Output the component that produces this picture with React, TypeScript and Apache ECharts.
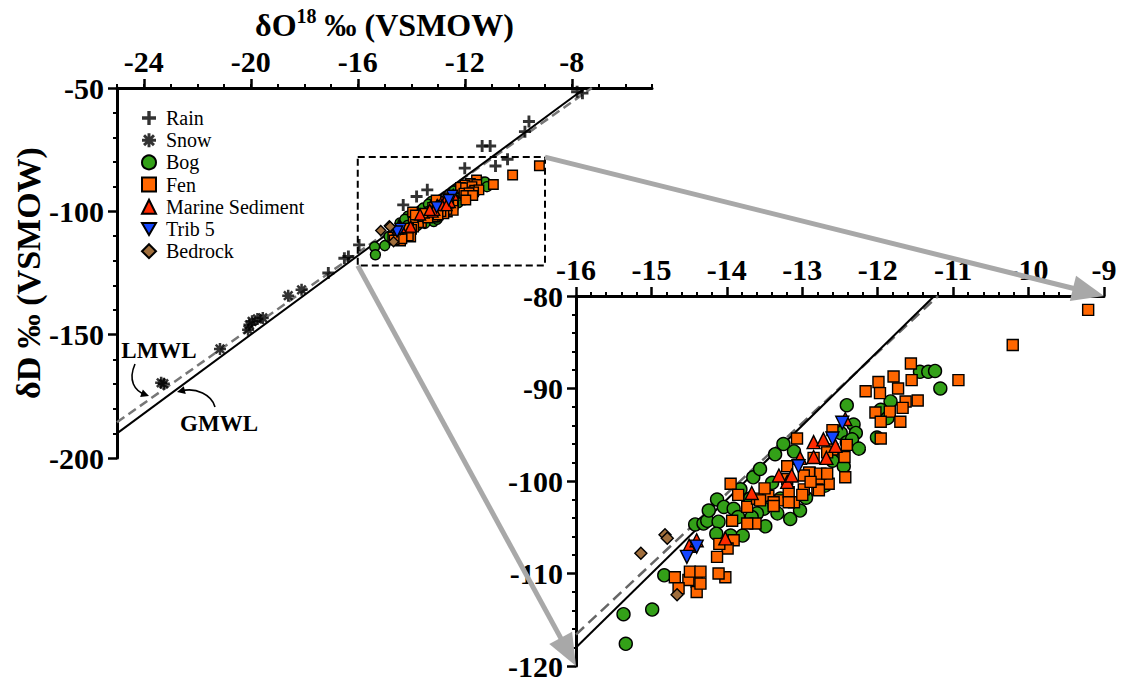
import React, { useEffect, useRef } from 'react';
import * as echarts from 'echarts';

const FONT = 'Liberation Serif';

// ---------- data ----------
const rain = [
  [-7.8, -51.5], [-7.6, -52.1], [-9.6, -63.6], [-9.75, -67.7], [-11.35, -73.5], [-11.05, -73.5],
  [-10.4, -78.9], [-10.85, -81.6], [-12.0, -82.5], [-13.4, -91.3], [-13.8, -94.0], [-14.3, -97.4],
  [-15.95, -113.6], [-16.5, -119.0], [-16.35, -118.3], [-17.1, -125.0],
];
const snow = [
  [-18.1, -131.8], [-18.6, -134.2], [-19.55, -143.2], [-19.75, -143.6], [-19.95, -144.6],
  [-20.05, -146.0], [-20.1, -148.0], [-21.15, -155.8], [-23.35, -169.5], [-23.25, -169.9],
];
const bog = [
  [-15.37, -114.4], [-15.34, -117.6], [-14.99, -113.9], [-14.83, -110.2], [-14.42, -104.7],
  [-14.31, -104.6], [-14.26, -104.3], [-14.11, -104.4], [-14.13, -102.0], [-14.04, -102.8],
  [-14.24, -103.2], [-13.95, -105.9], [-13.79, -105.9], [-13.65, -99.6], [-13.56, -98.7],
  [-13.91, -103.0], [-12.41, -91.8], [-12.32, -93.9], [-12.29, -94.8], [-13.25, -96.0],
  [-13.36, -97.1], [-13.11, -96.8], [-13.82, -100.9], [-13.69, -101.9], [-13.51, -103.0],
  [-13.33, -103.5], [-13.29, -101.9], [-12.49, -94.8], [-12.41, -95.8], [-12.49, -97.6],
  [-12.60, -97.8], [-11.44, -88.2], [-11.33, -88.2], [-11.24, -88.1], [-11.17, -90.0],
  [-12.34, -95.5], [-11.83, -91.4], [-11.96, -92.3], [-11.87, -93.2], [-12.01, -95.3],
  [-13.60, -103.5], [-13.16, -104.1], [-13.03, -103.2], [-13.49, -104.9], [-13.85, -103.9],
  [-13.67, -103.9], [-14.14, -105.7], [-12.45, -98.4], [-12.95, -101.8], [-12.70, -100.5],
  [-13.40, -100.2], [-12.25, -96.5],
];
const fen = [
  [-10.21, -85.3], [-9.21, -81.5], [-11.56, -87.3], [-11.79, -88.7], [-11.99, -89.3],
  [-11.55, -89.1], [-10.93, -89.1], [-12.16, -90.3], [-11.97, -90.5], [-11.73, -90.0],
  [-11.63, -91.4], [-11.47, -91.3], [-11.67, -92.1], [-12.03, -92.6], [-11.84, -92.5],
  [-11.96, -93.6], [-11.70, -93.6], [-11.96, -95.4], [-12.60, -94.5], [-12.41, -96.1],
  [-12.44, -97.4], [-12.65, -100.3], [-12.43, -99.6], [-13.07, -95.4], [-12.90, -99.1],
  [-12.78, -99.8], [-13.95, -100.3], [-13.73, -102.8], [-13.45, -101.6], [-13.29, -102.1],
  [-13.18, -101.2], [-12.98, -100.9], [-12.80, -100.9], [-12.91, -99.1], [-12.76, -99.2],
  [-12.67, -99.2], [-12.60, -96.6], [-12.67, -96.9], [-12.85, -97.5], [-13.20, -98.4],
  [-12.98, -99.4], [-13.20, -99.8], [-13.11, -102.3], [-13.60, -101.9], [-13.62, -104.6],
  [-13.73, -104.6], [-13.93, -104.3], [-13.91, -106.4], [-13.99, -107.3], [-14.13, -108.2],
  [-14.02, -110.4], [-14.11, -110.0], [-14.40, -110.9], [-14.51, -110.7], [-14.69, -110.4],
  [-14.49, -109.8], [-14.35, -109.8], [-14.40, -112.0], [-14.35, -111.1], [-14.64, -111.6],
  [-13.56, -102.1], [-13.38, -102.3], [-14.10, -106.8], [-12.78, -101.0], [-12.89, -100.1],
  [-13.18, -102.3], [-13.38, -102.7], [-13.50, -100.8], [-13.85, -101.5], [-13.00, -101.5],
];
const marine = [
  [-12.85, -95.8], [-12.72, -95.5], [-12.56, -96.2], [-13.03, -97.5], [-12.85, -97.4],
  [-12.68, -97.5], [-12.43, -93.3], [-13.20, -100.1], [-13.14, -99.4], [-13.31, -99.4],
  [-13.67, -101.3], [-14.02, -106.2], [-14.50, -107.0], [-14.40, -106.4],
];
const trib5 = [[-12.47, -93.7], [-12.60, -95.4], [-13.05, -98.4], [-14.40, -107.1], [-14.53, -108.2]];
const bedrock = [[-14.82, -105.8], [-14.79, -106.2], [-15.14, -107.8], [-14.66, -112.3]];

const gmwlMain = [[-25, -190], [-7.5, -50]];
const lmwlMain = [[-25, -185.5], [-7.25, -50]];
const gmwlInset = [[-16, -118], [-11.25, -80]];
const lmwlInset = [[-16, -116.6], [-11.2, -80]];

const zoomBoxX = [-16, -9];
const zoomBoxY = [-122, -78];
const insetX = [-16, -9];
const insetY = [-120, -80];
const mainXRange = [-25, -5];
const mainYRange = [-200, -50];
const mainXTicks = [-24, -20, -16, -12, -8];
const legendNames = ['Rain', 'Snow', 'Bog', 'Fen', 'Marine Sediment', 'Trib 5', 'Bedrock'];

// ---------- symbols ----------
const PLUS = 'path://M-2.4,-10L2.4,-10L2.4,-2.4L10,-2.4L10,2.4L2.4,2.4L2.4,10L-2.4,10L-2.4,2.4L-10,2.4L-10,-2.4L-2.4,-2.4Z';
function asteriskPath() {
  const R = 10, w = 2.1, rin = w / Math.sin(Math.PI / 8);
  const pts: number[][] = [];
  for (let i = 0; i < 8; i++) {
    const a = (i * Math.PI) / 4, c = Math.cos(a), s = Math.sin(a);
    pts.push([R * c + w * s, R * s - w * c]);
    pts.push([R * c - w * s, R * s + w * c]);
    const b = a + Math.PI / 8;
    pts.push([rin * Math.cos(b), rin * Math.sin(b)]);
  }
  return 'path://M' + pts.map((p) => p[0].toFixed(2) + ',' + p[1].toFixed(2)).join('L') + 'Z';
}
const ASTER = asteriskPath();
const TRI_DOWN = 'path://M-10,-8.66L10,-8.66L0,8.66Z';

const COLORS = {
  bog: '#33a018',
  fen: '#ff6600',
  marine: '#ff2a00',
  trib: '#1446ff',
  bedrock: '#a06e3c',
};

const tickFont = { fontSize: 30, fontWeight: 'bold' as const, fontFamily: FONT, color: '#000' };
const axisLine = { show: true, onZero: false, lineStyle: { color: '#000', width: 3 } };

function scatter(name: string, data: number[][], symbol: string, size: number, color: string, xi: number, yi: number, extra: any = {}) {
  return {
    type: 'scatter', name, data, xAxisIndex: xi, yAxisIndex: yi, symbol, symbolSize: size,
    itemStyle: { color, borderColor: '#000', borderWidth: 1.4, opacity: 1 },
    emphasis: { disabled: true }, silent: true, ...extra,
  };
}
function line(data: number[][], xi: number, yi: number, color: string, width: number, type: any) {
  return {
    type: 'line', data, xAxisIndex: xi, yAxisIndex: yi, symbol: 'none', silent: true,
    lineStyle: { color, width, type }, z: 1,
  };
}

function buildOption() {
  return {
    animation: false,
    backgroundColor: '#fff',
    textStyle: { fontFamily: FONT },
    grid: [
      { left: 117, top: 88, width: 535, height: 370 },
      { left: 576, top: 296, width: 528, height: 372 },
    ],
    legend: {
      data: legendNames, orient: 'vertical', left: 136, top: 102, itemWidth: 14, itemHeight: 14,
      itemGap: 0.2, selectedMode: false,
      textStyle: { fontFamily: FONT, fontSize: 20, color: '#000', lineHeight: 22, height: 22, padding: [0, 0, 0, 5] },
    },
    xAxis: [
      {
        gridIndex: 0, type: 'value', position: 'top', min: mainXRange[0], max: mainXRange[1], interval: 1,
        axisLine, axisTick: { show: true, length: 4, lineStyle: { color: '#000', width: 2 } },
        axisLabel: { show: false }, splitLine: { show: false },
      },
      {
        gridIndex: 0, type: 'value', position: 'top', min: mainXRange[0], max: mainXRange[1],
        axisLine: { show: false, onZero: false },
        axisTick: { show: true, customValues: mainXTicks, length: 9, lineStyle: { color: '#000', width: 2.5 } },
        axisLabel: { show: true, customValues: mainXTicks, margin: 12, ...tickFont },
        splitLine: { show: false },
        name: '{a|δO}{s|18}{a| ‰ (VSMOW)}', nameLocation: 'middle', nameGap: 44,
        nameTextStyle: {
          rich: {
            a: { fontSize: 32, fontWeight: 'bold', fontFamily: FONT, color: '#000', lineHeight: 35, verticalAlign: 'bottom' },
            s: { fontSize: 20, fontWeight: 'bold', fontFamily: FONT, color: '#000', lineHeight: 35, verticalAlign: 'top' },
          },
        },
      },
      {
        gridIndex: 1, type: 'value', position: 'top', min: insetX[0], max: insetX[1], interval: 1,
        axisLine, axisTick: { show: true, length: 9, lineStyle: { color: '#000', width: 2.5 } },
        minorTick: { show: true, splitNumber: 5, length: 4, lineStyle: { color: '#000', width: 2 } },
        axisLabel: { margin: 12, ...tickFont }, splitLine: { show: false }, minorSplitLine: { show: false },
      },
    ],
    yAxis: [
      {
        gridIndex: 0, type: 'value', min: mainYRange[0], max: mainYRange[1], interval: 50,
        axisLine, axisTick: { show: true, length: 9, lineStyle: { color: '#000', width: 2.5 } },
        minorTick: { show: true, splitNumber: 5, length: 4, lineStyle: { color: '#000', width: 2 } },
        axisLabel: { margin: 13, ...tickFont }, splitLine: { show: false },
        name: 'δD ‰ (VSMOW)', nameLocation: 'middle', nameGap: 72,
        nameTextStyle: { fontSize: 34, fontWeight: 'bold', fontFamily: FONT, color: '#000' },
      },
      {
        gridIndex: 1, type: 'value', min: insetY[0], max: insetY[1], interval: 10,
        axisLine, axisTick: { show: true, length: 9, lineStyle: { color: '#000', width: 2.5 } },
        minorTick: { show: true, splitNumber: 5, length: 4, lineStyle: { color: '#000', width: 2 } },
        axisLabel: { margin: 13, ...tickFont }, splitLine: { show: false },
      },
    ],
    series: [
      line(lmwlMain, 0, 0, '#777', 2.5, [9, 5]),
      line(gmwlMain, 0, 0, '#000', 2, 'solid'),
      line(
        [[zoomBoxX[0], zoomBoxY[1]], [zoomBoxX[1], zoomBoxY[1]], [zoomBoxX[1], zoomBoxY[0]], [zoomBoxX[0], zoomBoxY[0]], [zoomBoxX[0], zoomBoxY[1]]],
        0, 0, '#000', 2, [7, 4],
      ),
      scatter('Rain', rain, PLUS, 12, '#000', 0, 0, { itemStyle: { color: '#000', borderWidth: 0 } }),
      scatter('Snow', snow, ASTER, 12, '#000', 0, 0, { itemStyle: { color: '#000', borderWidth: 0 } }),
      scatter('Bog', bog, 'circle', 10, COLORS.bog, 0, 0),
      scatter('Fen', fen, 'rect', 9.5, COLORS.fen, 0, 0),
      scatter('Marine Sediment', marine, 'triangle', 11, COLORS.marine, 0, 0),
      scatter('Trib 5', trib5, TRI_DOWN, 11, COLORS.trib, 0, 0),
      scatter('Bedrock', bedrock, 'diamond', 10, COLORS.bedrock, 0, 0),
      line(lmwlInset, 2, 1, '#666', 2.5, [11, 6]),
      line(gmwlInset, 2, 1, '#000', 2, 'solid'),
      scatter('Bog', bog, 'circle', 13, COLORS.bog, 2, 1),
      scatter('Fen', fen, 'rect', 11, COLORS.fen, 2, 1),
      scatter('Marine Sediment', marine, 'triangle', 13, COLORS.marine, 2, 1),
      scatter('Trib 5', trib5, TRI_DOWN, 13, COLORS.trib, 2, 1),
      scatter('Bedrock', bedrock, 'diamond', 12, COLORS.bedrock, 2, 1),
    ],
  };
}

function arrow(s: number[], e: number[], color: string, width: number, hl: number, hw: number, z: number) {
  const dx = e[0] - s[0], dy = e[1] - s[1];
  const L = Math.hypot(dx, dy);
  const ux = dx / L, uy = dy / L;
  const bx = e[0] - ux * hl, by = e[1] - uy * hl;
  return [
    { type: 'line', z, silent: true, shape: { x1: s[0], y1: s[1], x2: bx + ux * 2, y2: by + uy * 2 }, style: { stroke: color, lineWidth: width } },
    { type: 'polygon', z, silent: true, shape: { points: [[e[0], e[1]], [bx - uy * hw, by + ux * hw], [bx + uy * hw, by - ux * hw]] }, style: { fill: color } },
  ];
}
function headAt(tip: number[], from: number[], hl: number, hw: number) {
  const dx = tip[0] - from[0], dy = tip[1] - from[1];
  const L = Math.hypot(dx, dy);
  const ux = dx / L, uy = dy / L;
  const bx = tip[0] - ux * hl, by = tip[1] - uy * hl;
  return {
    type: 'polygon', z: 10, silent: true,
    shape: { points: [[tip[0], tip[1]], [bx - uy * hw, by + ux * hw], [bx + uy * hw, by - ux * hw]] },
    style: { fill: '#000' },
  };
}

export default function App() {
  const ref = useRef<HTMLDivElement>(null);
  useEffect(() => {
    const chart = echarts.init(ref.current!, null, { renderer: 'svg' });
    chart.setOption(buildOption() as any);
    const toMain = (v: number[]) => chart.convertToPixel({ xAxisIndex: 0, yAxisIndex: 0 } as any, v) as number[];
    const toInset = (v: number[]) => chart.convertToPixel({ xAxisIndex: 2, yAxisIndex: 1 } as any, v) as number[];
    const gray = '#a8a8a8';
    const a1 = arrow(toMain([zoomBoxX[1], zoomBoxY[1]]), toInset([insetX[1], insetY[1]]), gray, 5, 32, 13, 3);
    const a2 = arrow(toMain([zoomBoxX[0], zoomBoxY[0]]), toInset([insetX[0], insetY[0]]), gray, 5, 32, 13, 3);
    const annText = (text: string, x: number, y: number) => ({
      type: 'text', z: 10, silent: true, x, y,
      style: { text, fontFamily: FONT, fontSize: 23, fontWeight: 'bold', fill: '#000', align: 'center', verticalAlign: 'middle' },
    });
    chart.setOption({
      graphic: [
        ...a1, ...a2,
        annText('LMWL', 159, 350),
        annText('GMWL', 219, 423),
        { type: 'bezierCurve', z: 10, silent: true, shape: { x1: 135, y1: 364, cpx1: 128, cpy1: 380, cpx2: 134, cpy2: 391, x2: 146, y2: 395 }, style: { stroke: '#000', lineWidth: 1.6, fill: null } },
        headAt([149, 396], [138, 392], 8, 4),
        { type: 'bezierCurve', z: 10, silent: true, shape: { x1: 215, y1: 407, cpx1: 212, cpy1: 395, cpx2: 196, cpy2: 387, x2: 181, y2: 391 }, style: { stroke: '#000', lineWidth: 1.6, fill: null } },
        headAt([177, 392], [189, 389], 8, 4),
      ],
    } as any);
    return () => chart.dispose();
  }, []);
  return <div ref={ref} style={{ position: 'absolute', left: 0, top: 0, width: 1125, height: 681, background: '#fff' }} />;
}
